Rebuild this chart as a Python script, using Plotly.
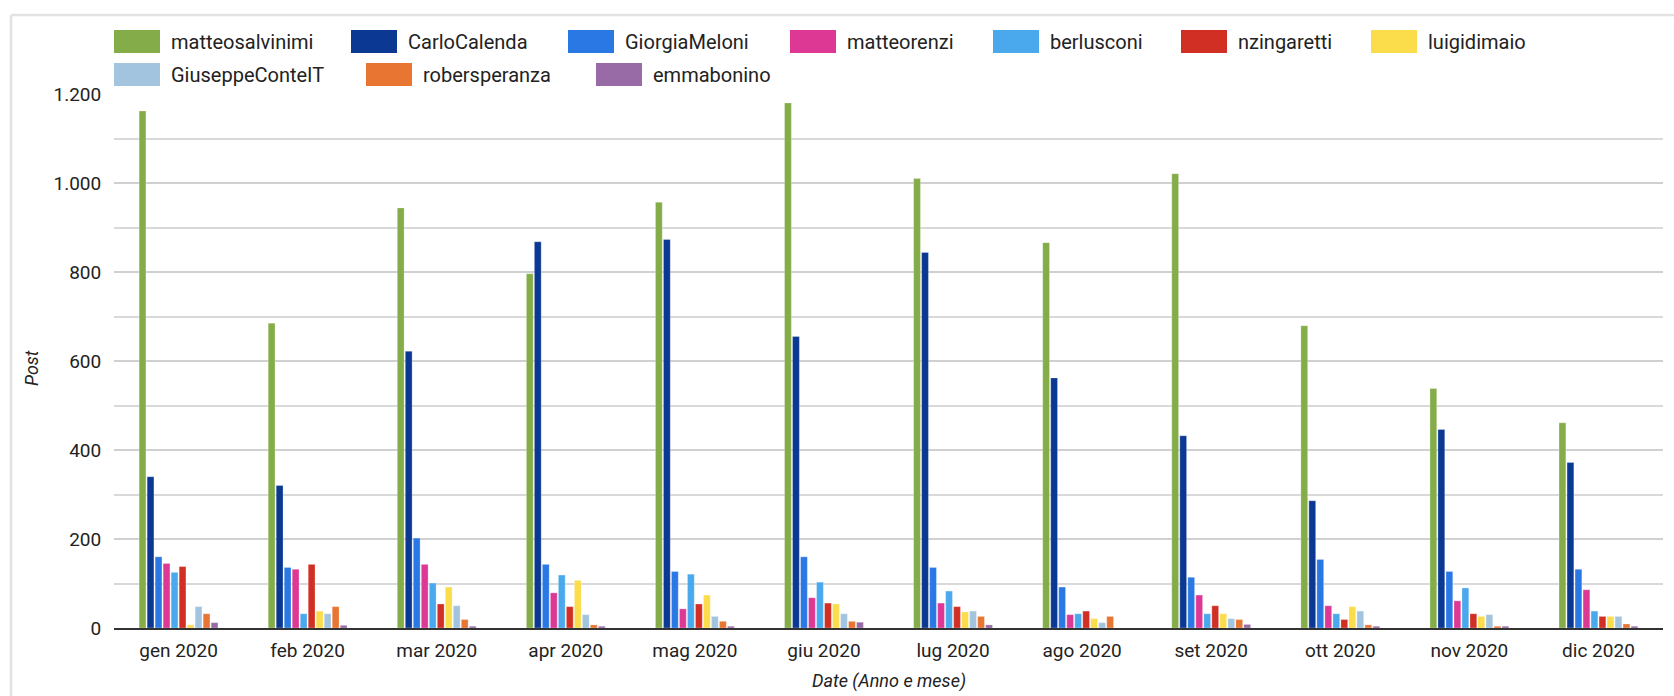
import plotly.graph_objects as go

# ---------------- data ----------------
months = ["gen 2020", "feb 2020", "mar 2020", "apr 2020", "mag 2020", "giu 2020",
          "lug 2020", "ago 2020", "set 2020", "ott 2020", "nov 2020", "dic 2020"]

matteosalvinimi = [1162, 685, 944, 796, 957, 1180, 1010, 866, 1021, 679, 538, 461]
CarloCalenda = [340, 320, 622, 868, 873, 655, 844, 562, 432, 286, 446, 372]
GiorgiaMeloni = [160, 136, 202, 143, 127, 160, 136, 92, 114, 154, 127, 132]
matteorenzi = [145, 132, 143, 79, 43, 68, 56, 30, 74, 50, 61, 86]
berlusconi = [125, 32, 101, 119, 121, 103, 83, 32, 32, 32, 90, 38]
nzingaretti = [138, 143, 54, 48, 54, 56, 48, 38, 50, 19, 32, 26]
luigidimaio = [7, 38, 92, 107, 74, 54, 36, 21, 32, 48, 26, 26]
GiuseppeConteIT = [48, 32, 50, 30, 26, 32, 38, 12, 21, 38, 30, 26]
robersperanza = [32, 48, 19, 7, 15, 15, 26, 26, 19, 7, 4, 9]
emmabonino = [12, 6, 4, 4, 4, 13, 7, 0, 8, 4, 4, 4]

series_names = ["matteosalvinimi", "CarloCalenda", "GiorgiaMeloni", "matteorenzi",
                "berlusconi", "nzingaretti", "luigidimaio", "GiuseppeConteIT",
                "robersperanza", "emmabonino"]
series_values = [matteosalvinimi, CarloCalenda, GiorgiaMeloni, matteorenzi,
                 berlusconi, nzingaretti, luigidimaio, GiuseppeConteIT,
                 robersperanza, emmabonino]

x_title = "Date (Anno e mese)"
y_title = "Post"

# ---------------- styles ----------------
colors = ["#84ac48", "#0b3893", "#2a78e4", "#de3895", "#4aa9ec",
          "#d12f24", "#fbdc4b", "#a3c4df", "#e87532", "#986ba6"]

W, H = 1674, 696
ML, MR, MT, MB = 114, 11, 94, 68
PW = W - ML - MR
PH = H - MT - MB
FONT = "Roboto"
TXT = "#222222"


def px(x):
    return (x - ML) / PW


def py(y):
    return (H - MB - y) / PH


fig = go.Figure()
for name, vals, col in zip(series_names, series_values, colors):
    fig.add_trace(go.Bar(
        x=months, y=vals, name=name,
        marker=dict(color=col, line=dict(color="rgba(255,255,255,0.45)", width=0.6)),
        showlegend=False,
    ))

# custom legend (large swatches like the reference)
legend_rows = [
    [(114, 0), (351, 1), (568, 2), (790, 3), (993, 4), (1181, 5), (1371, 6)],
    [(114, 7), (366, 8), (596, 9)],
]
row_y = [41.5, 74.5]
shapes = []
annotations = []
for r, items in enumerate(legend_rows):
    yc = row_y[r]
    for x0, idx in items:
        shapes.append(dict(type="rect", xref="paper", yref="paper",
                           x0=px(x0), x1=px(x0 + 46), y0=py(yc - 11.5), y1=py(yc + 11.5),
                           fillcolor=colors[idx], line=dict(width=0), layer="above"))
        annotations.append(dict(xref="paper", yref="paper", x=px(x0 + 55), y=py(yc),
                                xanchor="left", yanchor="middle", showarrow=False,
                                text=series_names[idx],
                                font=dict(family=FONT, size=20, color=TXT)))

# chart frame (top and left light gray lines)
shapes.append(dict(type="line", xref="paper", yref="paper",
                   x0=px(11), x1=px(1680), y0=py(15), y1=py(15),
                   line=dict(color="#e2e2e2", width=2.5)))
shapes.append(dict(type="line", xref="paper", yref="paper",
                   x0=px(11), x1=px(11), y0=py(15), y1=py(700),
                   line=dict(color="#e2e2e2", width=2.5)))

# axis titles
annotations.append(dict(xref="paper", yref="paper", x=0.5, y=py(681),
                        xanchor="center", yanchor="middle", showarrow=False,
                        text="<i>" + x_title + "</i>",
                        font=dict(family=FONT, size=18, color=TXT)))
annotations.append(dict(xref="paper", yref="paper", x=px(32), y=py(368),
                        xanchor="center", yanchor="middle", showarrow=False,
                        textangle=-90, text="<i>" + y_title + "</i>",
                        font=dict(family=FONT, size=18, color=TXT)))

fig.update_layout(
    width=W, height=H,
    margin=dict(l=ML, r=MR, t=MT, b=MB, autoexpand=False),
    paper_bgcolor="white", plot_bgcolor="white",
    barmode="group", bargap=0.38, bargroupgap=0.15,
    separators=",.",
    font=dict(family=FONT, size=19, color=TXT),
    shapes=shapes, annotations=annotations,
    xaxis=dict(type="category", showgrid=False, showline=True, linecolor="#333333",
               linewidth=2, ticks="outside", ticklen=4, tickcolor="rgba(0,0,0,0)",
               tickfont=dict(family=FONT, size=19, color=TXT), automargin=False),
    yaxis=dict(range=[0, 1200], dtick=200, tick0=0, tickformat=",d",
               showgrid=True, gridcolor="#d0d0d0", gridwidth=1.5,
               minor=dict(dtick=100, tick0=0, showgrid=True, gridcolor="#d9d9d9", gridwidth=1.5),
               zeroline=False, showline=False,
               ticks="outside", ticklen=8, tickcolor="rgba(0,0,0,0)",
               tickfont=dict(family=FONT, size=19, color=TXT), automargin=False),
)

fig.write_html("out.html", config={"displayModeBar": False},
               post_script="document.body.style.margin='0';document.body.style.overflow='hidden';")
